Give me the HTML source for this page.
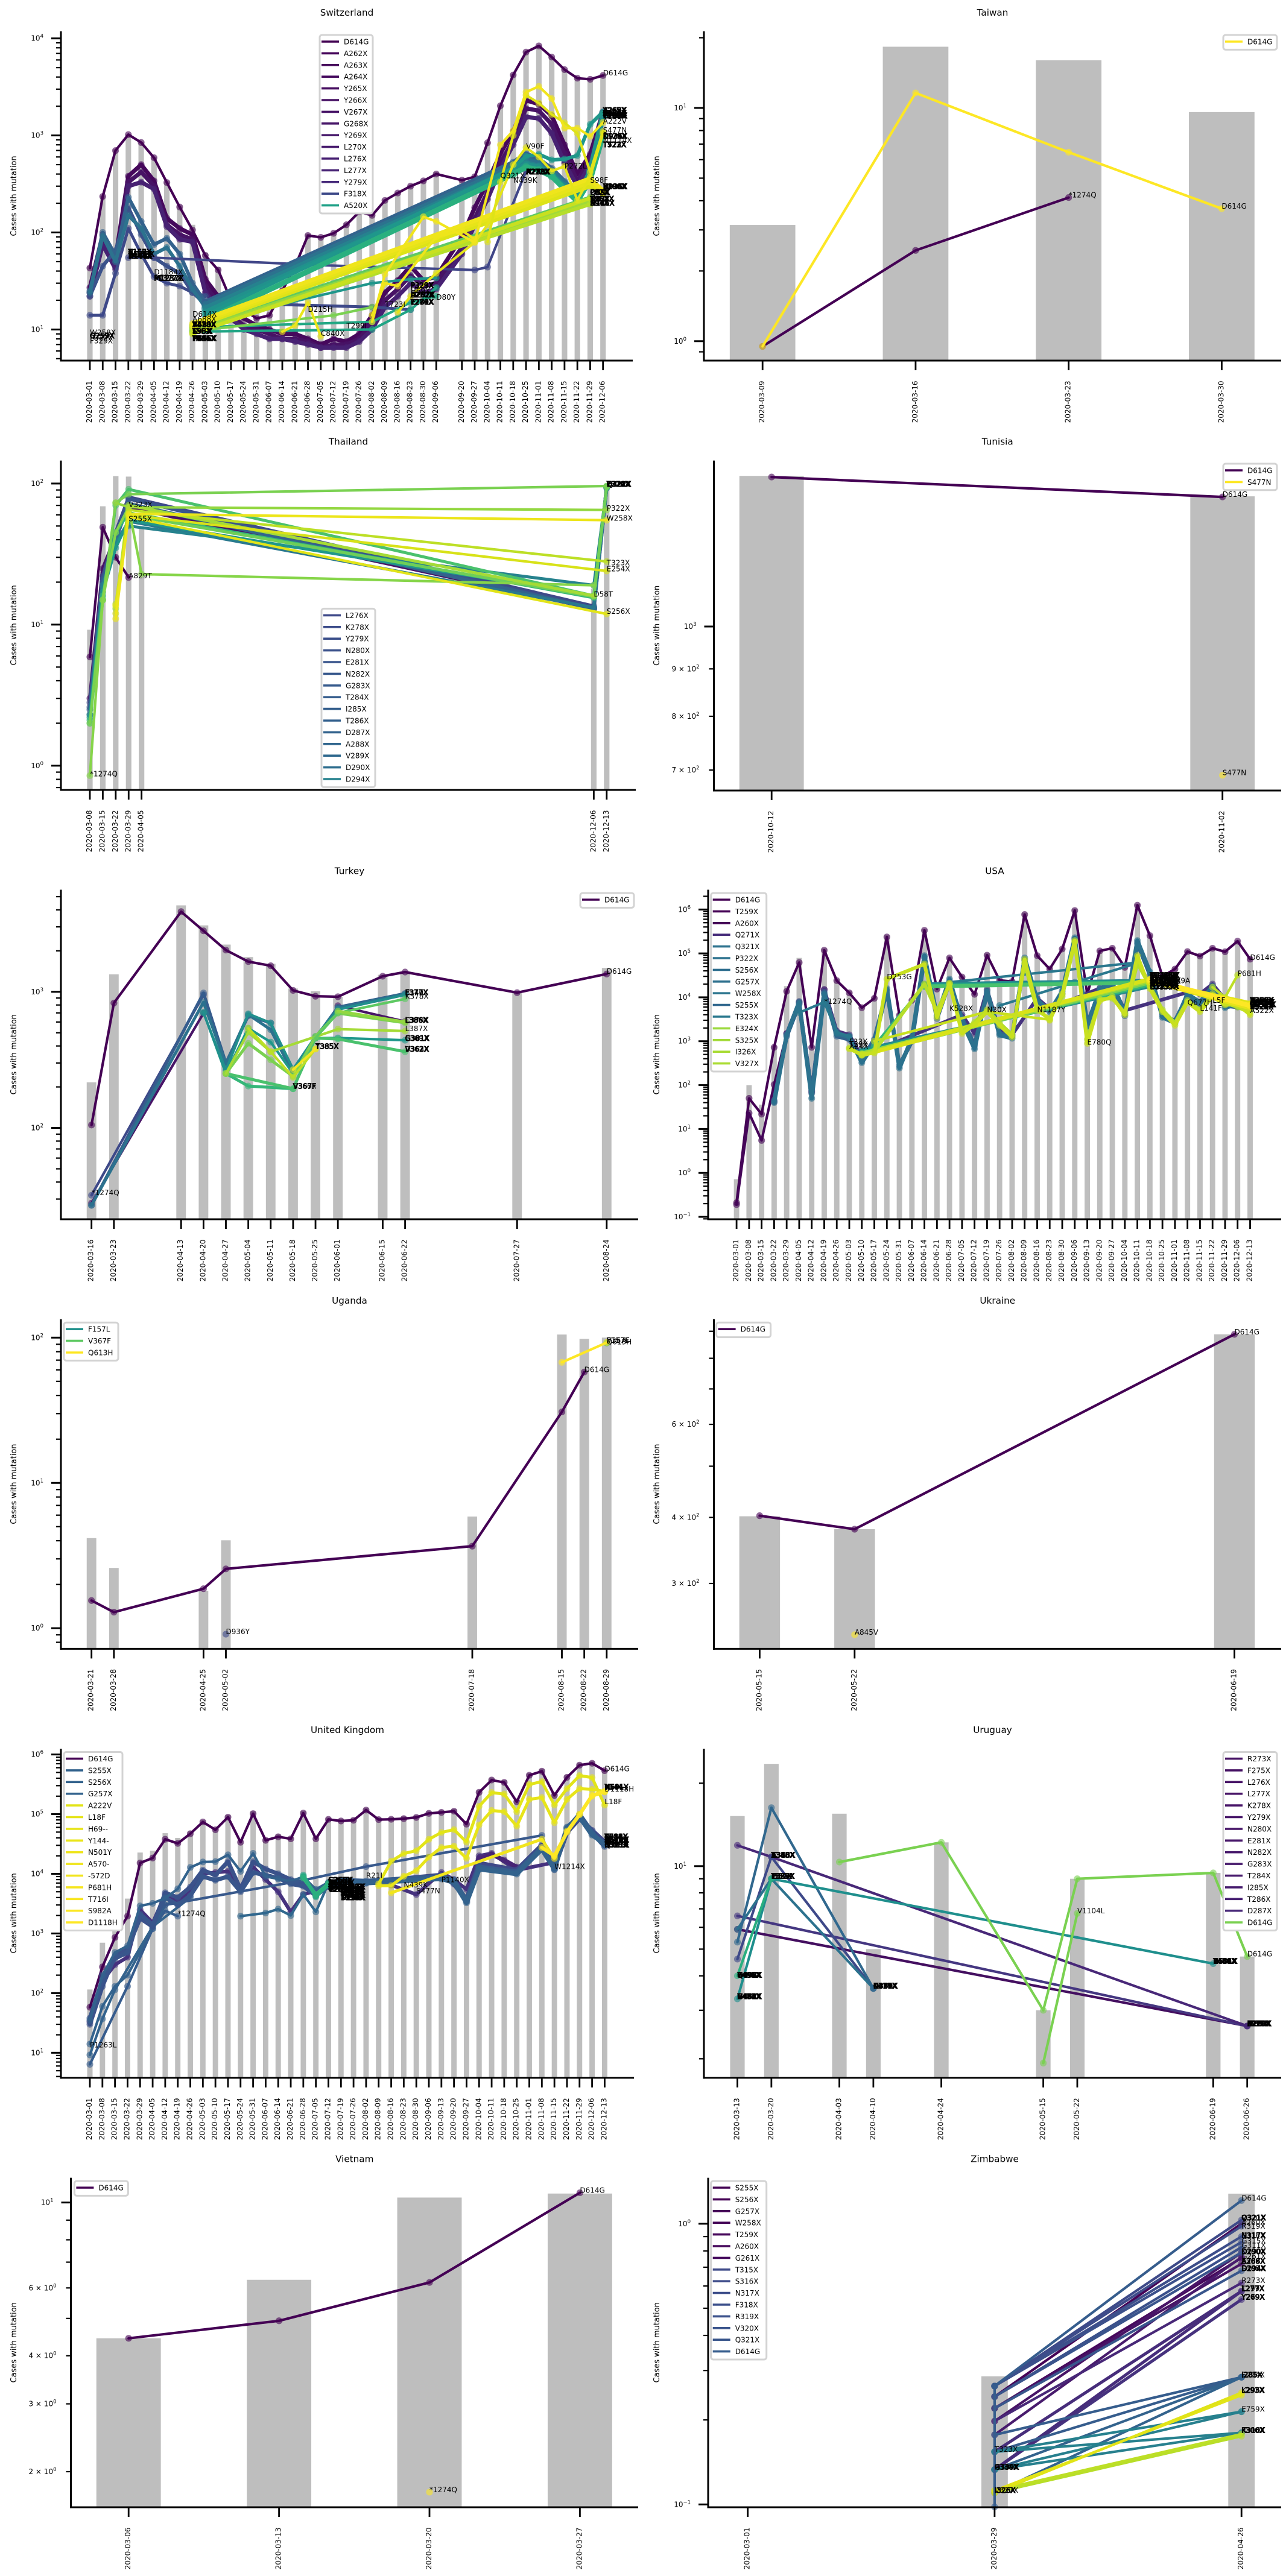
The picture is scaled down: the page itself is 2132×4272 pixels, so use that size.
<!DOCTYPE html>
<html lang="en">
<head>
<meta charset="utf-8">
<title>Cases with mutation by country</title>
<style>
html,body{margin:0;padding:0;background:#fff;}
svg{display:block;font-family:"DejaVu Sans","Liberation Sans",sans-serif;}
</style>
</head>
<body>
<svg id="figure" xmlns="http://www.w3.org/2000/svg" width="2132" height="4272" viewBox="0 0 2132 4272"></svg>
<script>
const _ = null;

/* ---------- Switzerland ---------- */
const swDates = ['03-01','03-08','03-15','03-22','03-29','04-05','04-12','04-19','04-26','05-03','05-10','05-17','05-24','05-31','06-07','06-14','06-21','06-28','07-05','07-12','07-19','07-26','08-02','08-09','08-16','08-23','08-30','09-06','09-20','09-27','10-04','10-11','10-18','10-25','11-01','11-08','11-15','11-22','11-29','12-06'];
const swTotals = [45,240,720,1030,860,600,335,190,120,62,44,23,18,15,16,30,48,97,92,100,125,170,155,220,260,310,350,420,355,380,860,2050,4300,7400,8500,6500,4800,3950,3850,4300];
const swD614G = [43,235,698,1020,845,589,327,183,106,58,41,20,16,13,14,25,45,93,89,98,120,163,150,214,255,300,340,400,346,375,840,2020,4200,7230,8370,6420,4770,3890,3790,4150];
const swPurpleA = [27,95,55,380,500,340,140,110,95,33,22,17,13,11,10,9,9,8,7,8,7.5,9,14,24,32,45,32,35,90,180,330,650,1100,2300,2100,1600,800,400,640,1750];
const swPurpleB = [24,85,48,330,420,300,120,95,85,28,19,14,11,10,9,8,8,7.5,6.5,7,7,8,12,20,26,36,28,30,70,140,260,520,900,1900,1800,1300,650,340,560,1650];
const swPurpleC = [22,75,42,300,330,280,115,85,80,24,17,13,10,9,8,8,7.5,7,6.5,6.5,6.5,7.5,10,17,22,30,24,26,60,120,220,450,800,1550,1500,1050,520,300,500,1550];
const swEarlyDates = ['03-01','03-08','03-15','03-22','03-29','04-05','04-12','04-19','04-26','05-03'];
const swEarlyA = [14,14,38,110,60,35,30,28,24,18];
const swEarlyB = [22,45,65,180,95,55,45,38,24,22];
const swEarlyC = [25,100,58,230,130,75,87,60,30,19];
const swEarlyD = [24,92,50,150,110,60,70,45,26,17];
const swFlatDates = ['03-22','04-05','07-05','09-27','10-04','10-25'];
const swFlat = [55,55,46,41,44,430];
const swMidDates = ['05-03','08-02','08-23'];
const swMid = [19,17,16];
const swTealDates = ['04-26','08-02','08-23','09-06'];
const swTealA = [11,30,33,34];
const swTealB = [9.5,10,16,27];
const swTealC = [10.5,12,19,22];
const swGreenDates = ['04-26','07-12','08-02'];
const swGreen = [9.6,14,17];
const swBandDates = ['05-03','10-18','10-25','11-01','11-08','11-15','11-22','11-29','12-06'];
const swBandA = [19,520,640,560,450,330,240,370,1700];
const swBandB = [18,480,560,520,430,320,230,400,1650];
const swBandC = [16.5,450,520,480,400,300,220,420,1600];
const swBandD = [15,430,500,470,390,290,215,430,1600];
const swBandE = [14,460,610,640,560,570,620,1300,1750];
const swBandF = [12.5,400,470,440,380,280,210,350,1000];
const swLimeDates = ['04-26','11-29'];
const swLimeA = [10.2,230];
const swLimeB = [9.8,215];
const swLimeC = [9.5,205];
const swLimeD = [9.2,195];
const swLimeE = [9,225];
const swYellowDates = ['04-26','11-29','12-06'];
const swYellowA = [10.5,300,250];
const swYellowB = [11,330,260];
const swYellowC = [11.5,360,270];
const swSpikeDates = ['06-14','06-21','06-28','07-05'];
const swSpike = [9.5,11,19,8.5];
const swLateADates = ['08-02','08-09','08-30','09-06','09-27','10-11','10-18','10-25','11-01','11-08','11-15','11-22','11-29','12-06'];
const swLateA = [12,37,145,130,79,800,1120,2800,3200,2400,1190,1190,980,1360];
const swLateBDates = ['08-16','08-23','09-06','09-27','10-04','10-18','10-25','11-01','11-08','11-15','11-22','11-29','12-06'];
const swLateB = [15,22,38,79,120,500,750,600,430,480,215,375,1050];
const swLateCDates = ['10-04','10-11','10-18','10-25','11-01','11-08','11-15','11-22','11-29','12-06'];
const swLateC = [80,330,1000,2600,2150,1650,1350,1050,420,1100];
const swLateDDates = ['08-02','08-09','08-16','09-06','09-20','09-27'];
const swLateD = [14,30,28,90,105,85];
const swLegendNames = ['D614G','A262X','A263X','A264X','Y265X','Y266X','V267X','G268X','Y269X','L270X','L276X','L277X','Y279X','F318X','A520X'];
const swLegendColors = ['#440154','#450559','#46085c','#460b5e','#470e61','#471164','#481467','#481769','#481a6c','#481c6e','#482173','#482475','#472a7a','#3e4a89','#1fa187'];
const swLabelDates = ['03-01','03-01','03-01','03-01','03-22','03-22','03-22','04-05','04-05','04-26','04-26','04-26','04-26','04-26','06-28','07-05','07-19','08-09','08-23','08-23','08-23','08-23','09-06','10-11','10-18','10-25','10-25','11-15','11-29','11-29','11-29','11-29','12-06','12-06','12-06','12-06','12-06','12-06','12-06','12-06','12-06','12-06'];
const swLabelValues = [8.8,8.1,7.7,7.2,59.5,56.5,53.6,36.8,31.8,13.6,12,10.6,9.06,7.6,15.2,8.6,10.3,17.1,26.9,23.6,21.4,18.1,20.3,363,325,731,398,455,325,245,209,189,4150,1715,1605,1504,1325,1067,923,840,759,281];
const swLabelTexts = ['W258X','Q259X G257X','P322X','F329X','P157X T158X','W152X R158X','Y144X N148X','D1184X','M1237X P1377X','D614X','A688X','T478X A520X V483X','L5F-X S98X T95X','T716X P681X H655X','D215H','C840X','T299I','T723I','F329X P323X','H69X','L270X D287X A262X','L276X E281X Y279X','D80Y','Q321X','N439K','V90F','P272X A273X N280X','P272L','S98F','Q89X P82X','R102X D83X T95X','H146X S94X K97X','D614G','A263X A262X Y265X','A264X Y266X V267X','G268X Y269X L270X','A222V','S477N','D936X K129X','N1114X','T572X T723X','D936X R190X Y200X'];

/* ---------- Taiwan ---------- */
const twDates = ['03-09','03-16','03-23','03-30'];
const twTotals = [3.15,18.3,16,9.6];
const tw1274Q = [0.95,2.45,4.13,_];
const twD614G = [0.95,11.6,6.46,3.7];
const twLabelDates = ['03-23','03-30'];
const twLabelValues = [4.13,3.7];
const twLabelTexts = ['*1274Q','D614G'];
const twLegendNames = ['D614G'];
const twLegendColors = ['#fde725'];

/* ---------- Thailand ---------- */
const thDates = ['03-08','03-15','03-22','03-29','04-05','12-06','12-13'];
const thTotals = [9.2,69,113,112,49,18,96];
const th01 = [5.9,49,30,21.6,_,_,_];
const th02 = [3,25,42,68,_,13,_];
const th03 = [2.8,22,45,80,_,13.5,95];
const th04 = [2.6,21,42,78,_,13,95];
const th05 = [2.5,20,40,72,_,13,94];
const th06 = [2.3,18,38,54,_,13.2,95];
const th07 = [2.3,19,38,50,_,19,93];
const th08 = [2.2,17,35,55,_,16,94];
const th09 = [2.1,16,45,62,_,15.5,95];
const th10 = [2,15,70,91,_,16,95];
const th11 = [_,_,_,60,_,15.8,95];
const th12 = [2,15,73,84,_,_,96];
const th13 = [0.85,14.9,45,68,22.8,19,_];
const th14 = [_,_,73,68,_,_,65];
const th15 = [_,_,13,70,_,16,_];
const th16 = [_,_,14,65,_,_,28];
const th17 = [_,_,12,60,_,_,24];
const th18 = [_,_,13.6,58,_,_,11.9];
const th19 = [_,_,11,61,_,_,55];
const thLegendNames = ['L276X','K278X','Y279X','N280X','E281X','N282X','G283X','T284X','I285X','T286X','D287X','A288X','V289X','D290X','D294X'];
const thLegendColors = ['#3e4989','#3d4d8a','#3c508b','#3b528b','#39558c','#38588c','#375b8d','#365d8d','#355f8d','#34618d','#33638d','#31668e','#30698e','#2e6e8e','#26828e'];
const thLabelDates = ['03-08','03-29','03-29','03-29','12-13','12-13','12-13','12-13','12-13','12-06','12-13'];
const thLabelValues = [0.84,21.3,54,68,95,64,54.6,26.3,23.8,15.8,11.9];
const thLabelTexts = ['*1274Q','A829T','S255X','V323X','Q322X Y279X E324X','P322X','W258X','T323X','E254X','D58T','S256X'];

/* ---------- Tunisia ---------- */
const tnDates = ['10-12','11-02'];
const tnTotals = [1454,1382];
const tnD614G = [1450,1380];
const tnS477N = [_,691];
const tnTickValues = [700,800,900];
const tnLabelDates = ['11-02','11-02'];
const tnLabelValues = [1380,691];
const tnLabelTexts = ['D614G','S477N'];
const tnLegendNames = ['D614G','S477N'];
const tnLegendColors = ['#440154','#fde725'];

/* ---------- Turkey ---------- */
const tkDates = ['03-16','03-23','04-13','04-20','04-27','05-04','05-11','05-18','05-25','06-01','06-15','06-22','07-27','08-24'];
const tkTotals = [216,1345,4316,3077,2223,1800,1607,1057,1010,920,1333,1397,1010,1497];
const tkD614G = [105,827,3882,2805,2026,1667,1554,1024,928,920,1302,1397,986,1352];
const tkDarkADates = ['03-16','04-20'];
const tkDarkA = [28,697];
const tkBlueCDates = ['03-16','04-20'];
const tkBlueC = [32,950];
const tkDarkBDates = ['06-01','06-22'];
const tkDarkB = [790,605];
const tkBlueDates = ['03-16','04-20','04-27','05-04','05-11','05-18','05-25','06-01','06-22'];
const tkBlueA = [27,980,300,665,591,251,457,771,972];
const tkBlueB = [27,838,295,680,527,251,457,760,965];
const tkTealDates = ['04-20','04-27','05-04','05-11','05-18','05-25','06-01','06-22'];
const tkTealA = [706,251,540,427,251,457,458,441];
const tkTealB = [700,265,690,590,270,470,740,950];
const tkGreenADates = ['04-27','05-04','05-18'];
const tkGreenA = [251,203,194];
const tkGreenBDates = ['04-27','05-18','05-25','06-01','06-22'];
const tkGreenB = [251,194,457,450,363];
const tkLimeADates = ['04-27','05-04','05-11','05-18','05-25','06-01','06-22'];
const tkLimeA = [251,418,316,239,470,697,592];
const tkLimeBDates = ['04-27','05-04','05-11','06-01','06-22'];
const tkLimeB = [251,504,363,532,515];
const tkYellowADates = ['05-04','05-11','05-18','05-25'];
const tkYellowA = [540,363,235,380];
const tkYellowBDates = ['05-18','05-25'];
const tkYellowB = [268,380];
const tkGreenCDates = ['05-25','06-01','06-22'];
const tkGreenC = [457,700,887];
const tkLimeCDates = ['06-01','06-22'];
const tkLimeC = [720,600];
const tkLabelDates = ['03-16','08-24','05-18','05-25','06-22','06-22','06-22','06-22','06-22','06-22'];
const tkLabelValues = [32,1352,194,380,950,887,592,515,437,363];
const tkLabelTexts = ['*1274Q','D614G','S366X','Y365X','E340X','K378X','C379X','L387X','E369X','D364X'];
const tkLabelRepeatDates = ['05-18','05-25','06-22','06-22','06-22','06-22'];
const tkLabelRepeatValues = [194,380,950,592,437,363];
const tkLabelRepeatTexts = ['V367F','T385X','F377X','L386X','G381X','V362X'];
const tkLegendNames = ['D614G'];
const tkLegendColors = ['#440154'];

/* ---------- USA ---------- */
const usDates = ['03-01','03-08','03-15','03-22','03-29','04-05','04-12','04-19','04-26','05-03','05-10','05-17','05-24','05-31','06-07','06-14','06-21','06-28','07-05','07-12','07-19','07-26','08-02','08-09','08-16','08-23','08-30','09-06','09-13','09-20','09-27','10-04','10-11','10-18','10-25','11-01','11-08','11-15','11-22','11-29','12-06','12-13'];
const usTotals = [0.72,100,36,790,18000,79000,800,130000,26000,14000,6200,10500,260000,4200,9000,360000,17000,85000,31000,12500,100000,26000,25000,850000,95000,48000,135000,1050000,13000,120000,140000,52000,1350000,270000,33000,48000,120000,93000,140000,115000,200000,80000];
const usD614G = [0.21,50,21.8,725,13700,62000,725,118000,24000,12600,5800,9500,237000,3900,8500,335000,15400,79000,29000,11700,91000,24400,22900,770000,89000,44000,126000,950000,11800,114000,131000,48000,1250000,254000,30000,44000,110000,87000,131000,109000,190000,74000];
const usEarlyDates = ['03-01','03-08','03-15','03-22','03-29','04-05','04-12','04-19','04-26','05-03'];
const usEarly = [0.19,23,5.5,103,1500,7500,70,15000,1600,1300];
const usBlueA = [_,_,_,40,1400,7800,50,11800,1480,1260,325,900,15800,245,1170,89000,3800,26000,2800,670,14000,1380,1170,79000,8900,4700,13800,228000,2100,15800,21000,4300,196000,38000,3500,2600,11900,7700,18000,5800,7000,5000];
const usBlueB = [_,_,_,45,1300,7000,65,13000,1300,1100,380,1100,14000,280,1000,80000,3300,22000,3300,800,12500,1500,1300,70000,7800,5200,12000,210000,2500,14000,18000,3800,170000,33000,3900,2900,10500,6800,16000,6500,6000,5500];
const usPurple = [_,_,_,42,1500,8000,75,15000,1700,1400,450,_,_,_,_,_,_,_,4000,1500,15000,1700,1400,_,9500,5500,_,_,_,16000,19000,5000,_,_,_,_,13000,12000,20000,9000,7500,5200];
const usLimeA = [_,_,_,_,_,_,_,_,_,670,500,540,26000,_,_,57000,3500,21000,1500,2400,4700,2300,1240,73000,5800,3000,11900,196000,890,8300,10300,4000,89000,15800,4700,2300,7700,4700,10300,6700,6900,4000];
const usLimeB = [_,_,_,_,_,_,_,_,_,700,480,600,_,_,_,20000,4800,20000,1700,2700,5200,2600,1400,60000,5000,3300,10500,180000,1100,9000,9500,4400,60000,18000,5200,2600,8500,5200,12000,7500,6000,4500];
const usFlatDates = ['06-14','10-18'];
const usFlatA = [20000,24000];
const usFlatB = [19000,23000];
const usFlatC = [18000,22000];
const usFlatD = [17500,21500];
const usRiseDates = ['05-10','10-18'];
const usRiseA = [620,18000];
const usRiseB = [580,19000];
const usRiseC = [540,20000];
const usRiseD = [500,22000];
const usRiseE = [520,24000];
const usRiseF = [480,26000];
const usSideDates = ['05-17','07-19','08-23'];
const usSide = [1000,4700,3100];
const usSpringDates = ['04-05','04-19','04-26','05-03'];
const usSpring = [4470,7800,1600,1300];
const usTealADates = ['06-28','10-11'];
const usTealA = [22000,62000];
const usTealBDates = ['07-26','09-06','10-11'];
const usTealB = [6500,22000,60000];
const usGreenDates = ['05-17','06-14'];
const usGreen = [800,19000];
const usEndDates = ['10-18','12-13'];
const usEndA = [23000,7200];
const usEndB = [24000,5800];
const usEndC = [25000,6500];
const usP681Dates = ['11-22','11-29','12-06'];
const usP681 = [17000,10000,32000];
const usLegendNames = ['D614G','T259X','A260X','Q271X','Q321X','P322X','S256X','G257X','W258X','S255X','T323X','E324X','S325X','I326X','V327X'];
const usLegendColors = ['#440154','#440154','#450457','#472d7b','#2c728e','#2c728e','#2e6e8e','#2d708e','#2b758e','#31688e','#2a788e','#9bd93c','#a2da37','#a8db34','#aadc32'];
const usLabelDates = ['04-19','05-03','05-03','05-03','05-24','06-28','07-19','08-16','09-13','10-18','10-18','10-18','10-18','10-18','10-18','10-25','11-08','11-22','11-15','12-06','12-13','12-13','12-13','12-13','12-13','12-13'];
const usLabelValues = [7080,860,750,668,25900,4900,4600,4600,840,28000,24400,21100,18300,15800,14900,21000,6700,7500,5000,30900,70800,7500,6700,6000,5350,4370];
const usLabelTexts = ['*1274Q','F33X','T29X','A24X','D253G','K528X','N30X','N1187Y','E780Q','M1229X T1238X K1245X','L1203X E1182X V1228X','S1252X A1260X W1214X','D1259X Y1265X K1269X','G1219X I1227X C1235X','E1132Q','T1289A','Q677H','L5F','L141F','P681H','D614G','T259X A260X V327X','Q321X P322X I326X','S256X G257X W258X','S325X E324X T323X','A522X'];

/* ---------- Uganda ---------- */
const ugDates = ['03-21','03-28','04-25','05-02','07-18','08-15','08-22','08-29'];
const ugTotals = [4.17,2.6,1.81,4.03,5.87,105,98,100];
const ugD614G = [1.55,1.29,1.87,2.56,3.67,30.8,58,_];
const ugD936Y = [_,_,_,0.91,_,_,_,_];
const ugF157L = [_,_,_,_,_,_,_,92];
const ugV367F = [_,_,_,_,_,_,_,92];
const ugQ613H = [_,_,_,_,_,67.6,_,92.5];
const ugLabelDates = ['05-02','08-22','08-29','08-29','08-29'];
const ugLabelValues = [0.91,58,92,92,90];
const ugLabelTexts = ['D936Y','D614G','F157L','V367F','Q613H'];
const ugLegendNames = ['F157L','V367F','Q613H'];
const ugLegendColors = ['#21918c','#5ec962','#fde725'];

/* ---------- Ukraine ---------- */
const uaDates = ['05-15','05-22','06-19'];
const uaTotals = [402,380,888];
const uaD614G = [403,380,888];
const uaA845V = [_,240,_];
const uaTickValues = [300,400,600];
const uaLabelDates = ['05-22','06-19'];
const uaLabelValues = [240,888];
const uaLabelTexts = ['A845V','D614G'];
const uaLegendNames = ['D614G'];
const uaLegendColors = ['#440154'];

/* ---------- United Kingdom ---------- */
const gbDates = ['03-01','03-08','03-15','03-22','03-29','04-05','04-12','04-19','04-26','05-03','05-10','05-17','05-24','05-31','06-07','06-14','06-21','06-28','07-05','07-12','07-19','07-26','08-02','08-09','08-16','08-23','08-30','09-06','09-13','09-20','09-27','10-04','10-11','10-18','10-25','11-01','11-08','11-15','11-22','11-29','12-06','12-13'];
const gbTotals = [115,700,2340,3840,22700,24400,48000,40000,52000,80000,60000,97000,38000,112000,40000,46000,42000,114000,44000,88000,84000,86000,128000,88000,90000,92000,96000,112000,116000,122000,76000,255000,410000,375000,178000,490000,570000,225000,450000,720000,780000,550000];
const gbD614G = [58,275,857,1950,15200,18400,38000,32300,47000,74000,54700,89000,33800,102000,36400,41700,38600,104000,38600,81800,76800,79000,117000,81000,82000,84000,88000,103000,107000,112000,68000,232000,373000,340000,161000,448000,524000,206000,414000,662000,712000,536000];
const gbSpringDates = ['03-01','03-08','03-15','03-22','03-29','04-05','04-12','04-19','04-26','05-03','05-10','05-17','05-24','05-31','06-07','06-14','06-21','06-28','07-05','07-12'];
const gbSpringA = [35,200,480,620,2900,3200,3900,5600,12800,15800,16000,20800,11000,22000,9000,8200,7500,8900,5500,7200];
const gbSpringB = [30,130,420,560,1800,1300,4800,4000,6000,11500,9500,16000,5500,16000,12000,10000,8000,7000,4800,6500];
const gbSpringC = [33,160,300,400,2500,1500,4500,3500,5000,10000,10500,11000,6000,13000,8000,5000,2300,4500,5200,6900];
const gbSpringD = [38,170,380,480,2100,1400,4000,3000,4300,9000,7800,9000,5000,10500,9500,8500,6800,6200,4300,6200];
const gbLowADates = ['03-01','03-08','03-15','03-22','04-05','04-12','04-19'];
const gbLowA = [14,60,130,200,1200,3000,3800];
const gbLowBDates = ['03-01','03-22','04-05','04-12','04-19'];
const gbLowB = [6.4,130,1200,2400,1950];
const gbLowCDates = ['03-01','03-08','03-15','04-05','04-26'];
const gbLowC = [9.2,37,114,1300,4000];
const gbLongDates = ['04-12','06-28','08-02','11-08','11-15'];
const gbLong = [3000,7800,13200,44000,11700];
const gbDipDates = ['05-24','06-07','06-14','06-21','06-28','07-05','07-12'];
const gbDip = [1950,2200,2560,2000,4500,2300,6900];
const gbLateDates = ['07-12','07-19','08-02','09-13','09-20','09-27','10-04','10-25','11-08','11-15','11-22','11-29','12-06','12-13'];
const gbLateA = [6900,7800,7500,9000,7900,3500,13000,10700,27600,12500,57000,98000,49000,29000];
const gbLateB = [6500,7500,7000,8300,7200,3300,12000,10000,26000,12000,60000,90000,45000,32000];
const gbLateC = [6200,7000,7200,9500,6800,3700,15000,11500,30000,13000,50000,85000,53000,34000];
const gbPurpleADates = ['08-16','08-30','09-13','09-20','09-27','10-04','10-11','10-25','11-15'];
const gbPurpleA = [6500,4500,10500,8000,5500,20000,22000,11500,15500];
const gbPurpleBDates = ['10-04','10-11','10-18','10-25'];
const gbPurpleB = [18000,21000,17000,13000];
const gbGreenDates = ['06-28','07-05','07-12'];
const gbGreenA = [9500,4100,7000];
const gbGreenB = [8500,4500,6800];
const gbGreenC = [9000,4300,6500];
const gbYellowDates = ['08-09','08-16','08-23','08-30','09-06','09-13','09-20','09-27','10-04','10-11','10-18','10-25','11-01','11-08','11-15','11-22','11-29','12-06','12-13'];
const gbYellowA = [6800,16300,21900,24400,37900,49300,55000,34000,135000,230000,217000,110000,315000,350000,142000,268000,443000,410000,142000];
const gbYellowB = [6300,6340,9100,11300,19000,27600,29000,18200,66000,115000,110000,63000,177000,190000,72000,177000,268000,260000,240000];
const gbBrightADates = ['11-08','11-15','11-22','11-29','12-06','12-13'];
const gbBrightA = [27600,20000,50000,98000,206000,240000];
const gbBrightBDates = ['08-16','11-08','11-15','11-22','11-29','12-06','12-13'];
const gbBrightB = [4800,38000,18100,52000,100000,200000,235000];
const gbLegendNames = ['D614G','S255X','S256X','G257X','A222V','L18F','H69--','Y144-','N501Y','A570-','-572D','P681H','T716I','S982A','D1118H'];
const gbLegendColors = ['#440154','#33638d','#33638d','#33638d','#e2e418','#e5e419','#e7e419','#eae51a','#efe51c','#efe51c','#f1e51d','#f6e620','#f8e621','#fbe723','#fde725'];
const gbLabelDates = ['03-01','04-19','07-12','07-12','07-12','07-12','07-12','07-19','07-19','07-19','07-19','07-19','07-19','08-02','08-23','08-30','09-13','11-15','12-13','12-13','12-13','12-13','12-13','12-13','12-13','12-13'];
const gbLabelValues = [12.3,1950,7100,6500,6000,5500,5000,5500,5000,4470,4470,4000,3630,8500,5900,4680,7250,12000,525000,147000,261000,240000,38000,34000,30800,27700];
const gbLabelTexts = ['P1263L','*1274Q','S255X S256X G257X','W258X T259X A260X','G261X A262X A263X','A264X Y265X Y266X','V267X G268X Y269X','L270X D215X A243X','L241X L242X R246X','S247X Y248X L249X','A222V','T250X P251X G252X','D253X S254X T315X','R21I','N439K','S477N','P1140X','W1214X','D614G','L18F','H69-- Y144- N501Y','D1118H','S982X T716X P681X','A570X D572X T572X','E583X V615X K529X','Q321X F318X N317X'];

/* ---------- Uruguay ---------- */
const uyDates = ['03-13','03-20','04-03','04-10','04-24','05-15','05-22','06-19','06-26'];
const uyTotals = [15.2,23.5,15.5,5,12.2,3,9,9.45,4.7];
const uy01 = [11.9,10.8,_,_,_,_,_,_,2.63];
const uy02 = [5.9,_,_,_,_,_,_,_,2.63];
const uy03 = [6.6,_,_,_,_,_,_,_,2.63];
const uy04 = [4.6,10.8,_,3.6,_,_,_,_,_];
const uy05 = [5.3,16.3,_,3.6,_,_,_,_,_];
const uy06 = [5.9,9,_,3.6,_,_,_,_,_];
const uy07 = [3.3,9,_,_,_,_,_,4.43,_];
const uy08 = [4,9,_,_,_,_,_,_,_];
const uyD614G = [_,_,10.35,_,12.2,3,9,9.45,4.7];
const uyV1104L = [_,_,_,_,_,1.93,6.74,_,_];
const uyLegendNames = ['R273X','F275X','L276X','L277X','K278X','Y279X','N280X','E281X','N282X','G283X','T284X','I285X','T286X','D287X','D614G'];
const uyLegendColors = ['#471365','#471365','#481467','#481467','#481668','#481769','#481769','#48186a','#481a6c','#481b6d','#481b6d','#481d6f','#482173','#482878','#7ad151'];
const uyLabelDates = ['03-13','03-13','03-20','03-20','04-10','05-22','06-19','06-26','06-26'];
const uyLabelValues = [3.94,3.3,10.75,9,3.6,6.74,4.43,4.7,2.63];
const uyLabelTexts = ['Q493X G496X','G482X V483X','A348X T345X','T333X F329X','D389X K417X','V1104L','E484X N501X','D614G','R273X F275X L276X'];
const uyLabelRepeatDates = ['03-13','03-13','03-20','03-20','04-10','06-19','06-26'];
const uyLabelRepeatValues = [3.94,3.3,10.75,9,3.6,4.43,2.63];
const uyLabelRepeatTexts = ['S494X Y495X','S477X E484X','E340X K356X','I332X P337X','N394X C379X','F486X Y489X','K278X N280X I285X'];

/* ---------- Vietnam ---------- */
const vnDates = ['03-06','03-13','03-20','03-27'];
const vnTotals = [4.44,6.3,10.3,10.55];
const vnD614G = [4.44,4.93,6.2,10.6];
const vn1274Q = [_,_,1.77,_];
const vnTickValues = [2,3,4,6];
const vnLabelDates = ['03-20','03-27'];
const vnLabelValues = [1.77,10.6];
const vnLabelTexts = ['*1274Q','D614G'];
const vnLegendNames = ['D614G'];
const vnLegendColors = ['#440154'];

/* ---------- Zimbabwe ---------- */
const zwDates = ['03-01','03-29','04-26'];
const zwTotals = [_,0.286,1.28];
const zwPairDates = ['03-29','04-26'];
const zwStemDates = ['03-29','03-29'];
const zwStem = [0.098,0.264];
const zwD614G = [0.264,1.21];
const zwBlueA = [0.264,1.03];
const zwBlueB = [0.264,0.98];
const zwBlueC = [0.264,0.90];
const zwBlueD = [0.264,0.86];
const zwBlueE = [0.242,0.825];
const zwBlueF = [0.242,0.79];
const zwBlueG = [0.22,0.68];
const zwDarkA = [0.242,1.0];
const zwDarkB = [0.22,0.755];
const zwDarkC = [0.22,0.72];
const zwDarkD = [0.198,0.79];
const zwDarkE = [0.177,0.76];
const zwVioletA = [0.198,0.615];
const zwVioletB = [0.154,0.575];
const zwVioletC = [0.133,0.537];
const zwVioletD = [0.133,0.575];
const zwSteelA = [0.177,0.284];
const zwSteelB = [0.154,0.284];
const zwSteelC = [0.133,0.284];
const zwSteelD = [0.11,0.284];
const zwTealA = [0.154,0.214];
const zwTealB = [0.154,0.18];
const zwTealC = [0.133,0.18];
const zwTealD = [0.133,0.214];
const zwYellowA = [0.11,0.25];
const zwYellowB = [0.112,0.245];
const zwLimeA = [0.11,0.175];
const zwLimeB = [0.112,0.178];
const zwLegendNames = ['S255X','S256X','G257X','W258X','T259X','A260X','G261X','T315X','S316X','N317X','F318X','R319X','V320X','Q321X','D614G'];
const zwLegendColors = ['#440154','#440154','#450457','#450457','#46075a','#46085c','#460a5d','#3e4a89','#3e4c8a','#3d4e8a','#3c508b','#3b518b','#3a548c','#39568c','#365d8d'];
const zwLabelDates = ['03-29','03-29','03-29','03-29','04-26','04-26','04-26','04-26','04-26','04-26','04-26','04-26','04-26','04-26','04-26','04-26','04-26','04-26','04-26','04-26','04-26'];
const zwLabelValues = [0.154,0.133,0.133,0.11,1.21,1.03,0.99,0.96,0.89,0.85,0.82,0.78,0.75,0.72,0.68,0.615,0.575,0.537,0.284,0.25,0.214];
const zwLabelTexts = ['T323X','P330X','A344X','V327X','D614G','V320X','A260X','R319X','S316X','G315X','G311X','K300X','G261X','E309X','S305X','R273X','T299X','Y279X','E294X','K296X','E759X'];
const zwLabelRepeatDates = ['03-29','03-29','04-26','04-26','04-26','04-26','04-26','04-26','04-26','04-26','04-26','04-26','04-26'];
const zwLabelRepeatValues = [0.133,0.11,1.03,0.89,0.78,0.72,0.68,0.575,0.537,0.284,0.25,0.18,0.18];
const zwLabelRepeatTexts = ['G339X','I326X','Q321X','N317X','D290X','A288X','D294X','L277X','Y269X','I285X','L293X','K310X','F306X'];

/* ---------- rendering ---------- */
const SVG_NS = 'http://www.w3.org/2000/svg';
const root = document.getElementById('figure');
function node(tag, attrs, parent) {
  const el = document.createElementNS(SVG_NS, tag);
  for (const k in attrs) el.setAttribute(k, attrs[k]);
  parent.appendChild(el);
  return el;
}
function dayOf(md) { return Date.UTC(2020, +md.slice(0,2) - 1, +md.slice(3)) / 864e5; }

function makeAxes(cfg) {
  const kx = (cfg.xRef[3] - cfg.xRef[1]) / (dayOf(cfg.xRef[2]) - dayOf(cfg.xRef[0]));
  const ky = (cfg.yRef[3] - cfg.yRef[1]) / (Math.log10(cfg.yRef[2]) - Math.log10(cfg.yRef[0]));
  const ax = {
    cfg: cfg,
    xDay: function (d) { return cfg.xRef[1] + (d - dayOf(cfg.xRef[0])) * kx; },
    x: function (md) { return ax.xDay(dayOf(md)); },
    y: function (v) { return cfg.yRef[1] + (Math.log10(v) - Math.log10(cfg.yRef[0])) * ky; }
  };
  const g = node('g', {}, root);
  
  
  ax.bars = node('g', {}, g);
  
  
  ax.marks = node('g', {}, g);
  
  
  ax.labels = node('g', {}, g);
  
  
  ax.frame = node('g', {}, g);
  
  
  ax.legendLayer = node('g', {}, g);
  
  

  cfg.totals.forEach(function (v, i) {
    if (v === null) return;
    const d = dayOf(cfg.dates[i]);
    const left = ax.xDay(d - 1.5), right = ax.xDay(d + 1.5), top = ax.y(v);
    const bar = node('rect', {x: left, y: top, width: right - left, height: Math.max(0, cfg.bottom - top), fill: '#bebebe'}, ax.bars);
    
    
  });

  const title = node('text', {x: (cfg.left + cfg.right) / 2, y: cfg.top - 26, 'font-size': 15.2, 'text-anchor': 'middle', fill: '#000'}, ax.frame);
  title.textContent = cfg.title;
  
  

  const yTitleX = (cfg.left > 1000 ? 1066 : 0) + 27;
  const yTitleY = (cfg.top + cfg.bottom) / 2;
  const yTitle = node('text', {transform: 'translate(' + yTitleX + ',' + yTitleY + ') rotate(-90)', 'font-size': 13, 'text-anchor': 'middle', fill: '#000'}, ax.frame);
  yTitle.textContent = 'Cases with mutation';
  
  

  cfg.dates.forEach(function (md) {
    const px = ax.x(md);
    const tick = node('line', {x1: px, x2: px, y1: cfg.bottom, y2: cfg.bottom + 16, stroke: '#000', 'stroke-width': 2.8}, ax.frame);
    
    
    const lab = node('text', {transform: 'translate(' + (px + 3) + ',' + (cfg.bottom + 33.5) + ') rotate(-90)', 'font-size': 12, 'text-anchor': 'end', fill: '#000'}, ax.frame);
    lab.textContent = '2020-' + md;
    
    
  });

  const labeled = cfg.labeledTicks || [];
  for (let e = -2; e <= 7; e++) {
    for (let m = 1; m <= 9; m++) {
      const v = m * Math.pow(10, e);
      const py = ax.y(v);
      if (py < cfg.top || py > cfg.bottom) continue;
      const major = m === 1;
      const tick = node('line', {x1: cfg.left, x2: cfg.left - (major ? 16 : 8), y1: py, y2: py, stroke: '#000', 'stroke-width': major ? 3 : 2.2}, ax.frame);
      
      
      const hasLabel = major || labeled.some(function (t) { return Math.abs(t - v) < 1e-6; });
      if (!hasLabel) continue;
      const tx = cfg.left - (major ? 29 : 24);
      const lab = node('text', {x: tx, y: py + 4, 'font-size': 12, 'text-anchor': 'end', fill: '#000'}, ax.frame);
      
      
      const base = node('tspan', {}, lab);
      base.textContent = major ? '10' : m + ' \u00d7 10';
      const sup = node('tspan', {dy: -5, 'font-size': 8.5}, lab);
      sup.textContent = String(e).replace('-', '\u2212');
    }
  }

  const spineLeft = node('line', {x1: cfg.left, x2: cfg.left, y1: cfg.top, y2: cfg.bottom + 1.5, stroke: '#000', 'stroke-width': 3}, ax.frame);
  
  
  const spineBottom = node('line', {x1: cfg.left - 1.5, x2: cfg.right, y1: cfg.bottom, y2: cfg.bottom, stroke: '#000', 'stroke-width': 3}, ax.frame);
  
  
  return ax;
}

function series(ax, dates, values, color, name, thickness) {
  const w = thickness || 4.2;
  const pts = [];
  values.forEach(function (v, i) {
    if (v === null) return;
    pts.push([ax.x(dates[i]), ax.y(v)]);
  });
  if (pts.length > 1) {
    const line = node('polyline', {points: pts.map(function (p) { return p[0].toFixed(1) + ',' + p[1].toFixed(1); }).join(' '), fill: 'none', stroke: color, 'stroke-width': w, 'stroke-linejoin': 'round', 'stroke-linecap': 'round'}, ax.marks);
    
    
  }
  pts.forEach(function (p) {
    const dot = node('circle', {cx: p[0], cy: p[1], r: Math.max(5.6, w * 0.75), fill: color, 'fill-opacity': 0.6}, ax.marks);
    
    
  });
}

function annotate(ax, dates, values, texts, heavy) {
  texts.forEach(function (t, i) {
    const words = t.split(' ');
    words.forEach(function (word) {
      const lab = node('text', {x: ax.x(dates[i]), y: ax.y(values[i]), 'font-size': 12, fill: '#000'}, ax.labels);
      if (heavy || words.length > 1) {
        lab.setAttribute('stroke', '#000');
        lab.setAttribute('stroke-width', '1');
      }
      lab.textContent = word;
      
      
    });
  });
}

function legend(ax, names, colors, x, y, w) {
  const rowH = 19.4;
  const frame = node('rect', {x: x, y: y, width: w, height: names.length * rowH + 5, rx: 4, ry: 4, fill: '#fff', stroke: '#d3d3d3', 'stroke-width': 3}, ax.legendLayer);
  
  
  names.forEach(function (n, i) {
    const cy = y + 11 + i * rowH;
    const h = node('line', {x1: x + 3, x2: x + 32, y1: cy, y2: cy, stroke: colors[i], 'stroke-width': 3.6}, ax.legendLayer);
    
    
    const t = node('text', {x: x + 40, y: cy + 4.5, 'font-size': 12, fill: '#000'}, ax.legendLayer);
    t.textContent = n;
    
    
  });
}

/* Switzerland */
(function () {
  const ax = makeAxes({title: 'Switzerland', dates: swDates, totals: swTotals, left: 101, right: 1049, top: 52, bottom: 598, xRef: ['03-01', 149, '12-06', 999.7], yRef: [10000, 63.7, 10, 546.4]});
  series(ax, swDates, swD614G, '#440154', 'D614G');
  series(ax, swDates, swPurpleA, '#46085c', 'A262X', 7);
  series(ax, swDates, swPurpleB, '#471365', 'A263X', 7);
  series(ax, swDates, swPurpleC, '#482173', 'L276X', 7);
  series(ax, swEarlyDates, swEarlyA, '#3e4989', 'F318X', 5);
  series(ax, swEarlyDates, swEarlyB, '#3b528b', 'early-b', 6);
  series(ax, swEarlyDates, swEarlyC, '#33638d', 'early-c', 6);
  series(ax, swEarlyDates, swEarlyD, '#2c728e', 'early-d', 6);
  series(ax, swFlatDates, swFlat, '#404688', 'flat');
  series(ax, swMidDates, swMid, '#3e4989', 'mid', 5);
  series(ax, swTealDates, swTealA, '#1f968b', 'teal-a');
  series(ax, swTealDates, swTealB, '#21a585', 'teal-b');
  series(ax, swTealDates, swTealC, '#22a884', 'teal-c');
  series(ax, swGreenDates, swGreen, '#7ad151', 'green');
  series(ax, swBandDates, swBandA, '#33638d', 'band-a', 9);
  series(ax, swBandDates, swBandB, '#2c728e', 'band-b', 9);
  series(ax, swBandDates, swBandC, '#26828e', 'band-c', 9);
  series(ax, swBandDates, swBandD, '#21918c', 'band-d', 9);
  series(ax, swBandDates, swBandE, '#1f978b', 'A520X', 6);
  series(ax, swBandDates, swBandF, '#2ab07f', 'band-f', 9);
  series(ax, swLimeDates, swLimeA, '#5ec962', 'lime-a', 6);
  series(ax, swLimeDates, swLimeB, '#90d743', 'lime-b', 6);
  series(ax, swLimeDates, swLimeC, '#a0da39', 'lime-c', 6);
  series(ax, swLimeDates, swLimeD, '#b5de2b', 'lime-d', 6);
  series(ax, swLimeDates, swLimeE, '#c8e020', 'lime-e', 6);
  series(ax, swYellowDates, swYellowA, '#dde318', 'yellow-a', 7);
  series(ax, swYellowDates, swYellowB, '#e7e419', 'yellow-b', 7);
  series(ax, swYellowDates, swYellowC, '#efe51c', 'yellow-c', 7);
  series(ax, swSpikeDates, swSpike, '#eae51a', 'C840X');
  series(ax, swLateDDates, swLateD, '#eee51b', 'late-d');
  series(ax, swLateBDates, swLateB, '#e5e419', 'late-b');
  series(ax, swLateCDates, swLateC, '#dfe318', 'late-c');
  series(ax, swLateADates, swLateA, '#f1e51d', 'late-a');
  annotate(ax, swLabelDates, swLabelValues, swLabelTexts);
  legend(ax, swLegendNames, swLegendColors, 530, 58, 88);
})();

/* Taiwan */
(function () {
  const ax = makeAxes({title: 'Taiwan', dates: twDates, totals: twTotals, left: 1167, right: 2124, top: 52, bottom: 598, xRef: ['03-09', 1264.2, '03-30', 2025.4], yRef: [10, 179, 1, 565.8]});
  series(ax, twDates, tw1274Q, '#440154', '1274Q');
  series(ax, twDates, twD614G, '#fde725', 'D614G');
  annotate(ax, twLabelDates, twLabelValues, twLabelTexts);
  legend(ax, twLegendNames, twLegendColors, 2028, 58, 89);
})();

/* Thailand */
(function () {
  const ax = makeAxes({title: 'Thailand', dates: thDates, totals: thTotals, left: 101, right: 1054, top: 763.7, bottom: 1310, xRef: ['03-08', 149, '12-13', 1005.8], yRef: [100, 801.9, 1, 1269.8]});
  series(ax, thDates, th01, '#440154', 'A829T');
  series(ax, thDates, th02, '#471365', 'L276X', 6);
  series(ax, thDates, th03, '#3e4989', 'K278X', 6);
  series(ax, thDates, th04, '#39558c', 'N280X', 6);
  series(ax, thDates, th05, '#33638d', 'D287X', 6);
  series(ax, thDates, th06, '#2a788e', 'D290X', 5);
  series(ax, thDates, th07, '#26828e', 'D294X', 5);
  series(ax, thDates, th08, '#1f978b', 'teal', 5);
  series(ax, thDates, th09, '#35b779', 'green-a', 5);
  series(ax, thDates, th10, '#4ac16d', 'green-b', 5);
  series(ax, thDates, th11, '#6ece58', 'green-c', 5);
  series(ax, thDates, th12, '#7ad151', 'green-d');
  series(ax, thDates, th13, '#86d549', '1274Q');
  series(ax, thDates, th14, '#93d741', 'P322X');
  series(ax, thDates, th15, '#a5db36', 'lime', 5);
  series(ax, thDates, th16, '#bddf26', 'T323X');
  series(ax, thDates, th17, '#d8e219', 'E324X');
  series(ax, thDates, th18, '#e2e418', 'S256X');
  series(ax, thDates, th19, '#ece51b', 'W258X');
  annotate(ax, thLabelDates, thLabelValues, thLabelTexts);
  legend(ax, thLegendNames, thLegendColors, 533, 1009.4, 89);
})();

/* Tunisia */
(function () {
  const ax = makeAxes({title: 'Tunisia', dates: tnDates, totals: tnTotals, left: 1183.5, right: 2124, top: 763.7, bottom: 1311, xRef: ['10-12', 1279.2, '11-02', 2026.7], yRef: [1000, 1039, 700, 1277], labeledTicks: tnTickValues});
  series(ax, tnDates, tnD614G, '#440154', 'D614G');
  series(ax, tnDates, tnS477N, '#fde725', 'S477N');
  annotate(ax, tnLabelDates, tnLabelValues, tnLabelTexts);
  legend(ax, tnLegendNames, tnLegendColors, 2028, 769, 89);
})();

/* Turkey */
(function () {
  const ax = makeAxes({title: 'Turkey', dates: tkDates, totals: tkTotals, left: 101, right: 1058, top: 1475.5, bottom: 2022, xRef: ['03-16', 151.7, '08-24', 1005.8], yRef: [1000, 1644.8, 100, 1870.5]});
  series(ax, tkDates, tkD614G, '#440154', 'D614G');
  series(ax, tkDarkADates, tkDarkA, '#481567', 'dark-a');
  series(ax, tkBlueCDates, tkBlueC, '#3e4989', 'blue-c');
  series(ax, tkDarkBDates, tkDarkB, '#481567', 'dark-b');
  series(ax, tkBlueDates, tkBlueA, '#365c8d', 'blue-a', 5);
  series(ax, tkBlueDates, tkBlueB, '#2c728e', 'blue-b', 5);
  series(ax, tkTealDates, tkTealA, '#1f978b', 'teal-a');
  series(ax, tkTealDates, tkTealB, '#218f8d', 'teal-b');
  series(ax, tkGreenADates, tkGreenA, '#35b779', 'green-a', 5);
  series(ax, tkGreenBDates, tkGreenB, '#4ac16d', 'green-b', 5);
  series(ax, tkLimeADates, tkLimeA, '#7ad151', 'lime-a', 5);
  series(ax, tkLimeBDates, tkLimeB, '#a5db36', 'lime-b');
  series(ax, tkYellowADates, tkYellowA, '#bddf26', 'yellow-a');
  series(ax, tkYellowBDates, tkYellowB, '#f3e51e', 'yellow-b');
  series(ax, tkGreenCDates, tkGreenC, '#5ec962', 'green-c');
  series(ax, tkLimeCDates, tkLimeC, '#93d741', 'lime-c', 5);
  annotate(ax, tkLabelDates, tkLabelValues, tkLabelTexts);
  annotate(ax, tkLabelRepeatDates, tkLabelRepeatValues, tkLabelRepeatTexts, true);
  legend(ax, tkLegendNames, tkLegendColors, 962, 1481, 89);
})();

/* USA */
(function () {
  const ax = makeAxes({title: 'USA', dates: usDates, totals: usTotals, left: 1174, right: 2124, top: 1475.5, bottom: 2022, xRef: ['03-01', 1221.1, '12-13', 2072.5], yRef: [1000000, 1508.3, 0.1, 2018]});
  series(ax, usDates, usD614G, '#440154', 'D614G');
  series(ax, usEarlyDates, usEarly, '#450559', 'T259X');
  series(ax, usDates, usPurple, '#46327e', 'Q271X', 6);
  series(ax, usDates, usBlueB, '#33638d', 'S256X', 7);
  series(ax, usDates, usBlueA, '#2c728e', 'Q321X', 7);
  series(ax, usSpringDates, usSpring, '#2a788e', 'spring');
  series(ax, usTealADates, usTealA, '#2a788e', 'teal-a');
  series(ax, usTealBDates, usTealB, '#2a788e', 'teal-b');
  series(ax, usFlatDates, usFlatA, '#26828e', 'flat-a', 6);
  series(ax, usFlatDates, usFlatB, '#1f968b', 'flat-b', 6);
  series(ax, usFlatDates, usFlatC, '#35b779', 'flat-c', 6);
  series(ax, usFlatDates, usFlatD, '#4ac16d', 'flat-d', 6);
  series(ax, usRiseDates, usRiseA, '#26828e', 'rise-a', 7);
  series(ax, usRiseDates, usRiseB, '#1f968b', 'rise-b', 7);
  series(ax, usRiseDates, usRiseC, '#35b779', 'rise-c', 7);
  series(ax, usRiseDates, usRiseD, '#7ad151', 'rise-d', 7);
  series(ax, usRiseDates, usRiseE, '#a5db36', 'rise-e', 7);
  series(ax, usRiseDates, usRiseF, '#d8e219', 'rise-f', 7);
  series(ax, usGreenDates, usGreen, '#35b779', 'green');
  series(ax, usSideDates, usSide, '#c8e020', 'side');
  series(ax, usDates, usLimeB, '#b5de2b', 'lime-b', 6);
  series(ax, usDates, usLimeA, '#c8e020', 'lime-a', 6);
  series(ax, usP681Dates, usP681, '#bddf26', 'P681H');
  series(ax, usEndDates, usEndA, '#dfe318', 'end-a', 8);
  series(ax, usEndDates, usEndB, '#e7e419', 'end-b', 8);
  series(ax, usEndDates, usEndC, '#fde725', 'end-c', 8);
  annotate(ax, usLabelDates, usLabelValues, usLabelTexts);
  legend(ax, usLegendNames, usLegendColors, 1178.7, 1481, 92);
})();

/* Uganda */
(function () {
  const ax = makeAxes({title: 'Uganda', dates: ugDates, totals: ugTotals, left: 101, right: 1058, top: 2187.8, bottom: 2734.4, xRef: ['03-21', 151.7, '08-29', 1005.8], yRef: [100, 2218.3, 1, 2700.2]});
  series(ax, ugDates, ugD614G, '#440154', 'D614G');
  series(ax, ugDates, ugD936Y, '#3e4989', 'D936Y');
  series(ax, ugDates, ugF157L, '#21918c', 'F157L');
  series(ax, ugDates, ugV367F, '#5ec962', 'V367F');
  series(ax, ugDates, ugQ613H, '#fde725', 'Q613H');
  annotate(ax, ugLabelDates, ugLabelValues, ugLabelTexts);
  legend(ax, ugLegendNames, ugLegendColors, 106, 2193.2, 90);
})();

/* Ukraine */
(function () {
  const ax = makeAxes({title: 'Ukraine', dates: uaDates, totals: uaTotals, left: 1183.5, right: 2124, top: 2187.8, bottom: 2734.4, xRef: ['05-15', 1259.4, '06-19', 2046.5], yRef: [600, 2362.1, 300, 2626], labeledTicks: uaTickValues});
  series(ax, uaDates, uaD614G, '#440154', 'D614G');
  series(ax, uaDates, uaA845V, '#fde725', 'A845V');
  annotate(ax, uaLabelDates, uaLabelValues, uaLabelTexts);
  legend(ax, uaLegendNames, uaLegendColors, 1187.6, 2193.2, 90);
})();

/* United Kingdom */
(function () {
  const ax = makeAxes({title: 'United Kingdom', dates: gbDates, totals: gbTotals, left: 101, right: 1051, top: 2900, bottom: 3445.7, xRef: ['03-01', 149, '12-13', 1002.4], yRef: [1000000, 2909.6, 10, 3404.3]});
  series(ax, gbDates, gbD614G, '#440154', 'D614G');
  series(ax, gbLowADates, gbLowA, '#33638d', 'low-a');
  series(ax, gbLowBDates, gbLowB, '#365c8d', 'low-b');
  series(ax, gbLowCDates, gbLowC, '#33638d', 'low-c');
  series(ax, gbSpringDates, gbSpringC, '#46327e', 'spring-c', 6);
  series(ax, gbSpringDates, gbSpringB, '#3b528b', 'spring-b', 7);
  series(ax, gbSpringDates, gbSpringD, '#39568c', 'spring-d', 7);
  series(ax, gbSpringDates, gbSpringA, '#33638d', 'S255X');
  series(ax, gbLongDates, gbLong, '#38598c', 'long');
  series(ax, gbDipDates, gbDip, '#31688e', 'dip');
  series(ax, gbPurpleADates, gbPurpleA, '#46327e', 'purple-a', 6);
  series(ax, gbPurpleBDates, gbPurpleB, '#482475', 'purple-b', 7);
  series(ax, gbLateDates, gbLateC, '#3e4989', 'late-c', 8);
  series(ax, gbLateDates, gbLateA, '#365c8d', 'late-a', 8);
  series(ax, gbLateDates, gbLateB, '#33638d', 'late-b', 8);
  series(ax, gbGreenDates, gbGreenA, '#1fa187', 'green-a', 6);
  series(ax, gbGreenDates, gbGreenB, '#35b779', 'green-b', 6);
  series(ax, gbGreenDates, gbGreenC, '#29af7f', 'green-c', 6);
  series(ax, gbYellowDates, gbYellowA, '#e2e418', 'L18F', 5);
  series(ax, gbYellowDates, gbYellowB, '#e7e419', 'A222V', 5);
  series(ax, gbBrightBDates, gbBrightB, '#f1e51d', 'N501Y', 5);
  series(ax, gbBrightADates, gbBrightA, '#fde725', 'D1118H', 6);
  annotate(ax, gbLabelDates, gbLabelValues, gbLabelTexts);
  legend(ax, gbLegendNames, gbLegendColors, 106, 2905.5, 97);
})();

/* Uruguay */
(function () {
  const ax = makeAxes({title: 'Uruguay', dates: uyDates, totals: uyTotals, left: 1167, right: 2124, top: 2900, bottom: 3445.7, xRef: ['03-13', 1222.5, '06-26', 2067.7], yRef: [10, 3094.8, 2, 3414.3]});
  series(ax, uyDates, uy02, '#440f60', 'R273X');
  series(ax, uyDates, uy03, '#453781', 'T286X');
  series(ax, uyDates, uy01, '#482878', 'D287X');
  series(ax, uyDates, uy04, '#3e4989', 'blue-a');
  series(ax, uyDates, uy06, '#2c728e', 'blue-c');
  series(ax, uyDates, uy05, '#31688e', 'blue-b');
  series(ax, uyDates, uy07, '#1f8f8d', 'teal');
  series(ax, uyDates, uy08, '#29af7f', 'green');
  series(ax, uyDates, uyD614G, '#7ad151', 'D614G');
  series(ax, uyDates, uyV1104L, '#7ad151', 'V1104L');
  annotate(ax, uyLabelDates, uyLabelValues, uyLabelTexts);
  annotate(ax, uyLabelRepeatDates, uyLabelRepeatValues, uyLabelRepeatTexts, true);
  legend(ax, uyLegendNames, uyLegendColors, 2028, 2905.5, 89);
})();

/* Vietnam */
(function () {
  const ax = makeAxes({title: 'Vietnam', dates: vnDates, totals: vnTotals, left: 117.5, right: 1058, top: 3611.6, bottom: 4158, xRef: ['03-06', 213.2, '03-27', 961.4], yRef: [10, 3652.6, 2, 4099], labeledTicks: vnTickValues});
  series(ax, vnDates, vnD614G, '#440154', 'D614G');
  series(ax, vnDates, vn1274Q, '#fde725', '1274Q');
  annotate(ax, vnLabelDates, vnLabelValues, vnLabelTexts);
  legend(ax, vnLegendNames, vnLegendColors, 123.4, 3617, 89);
})();

/* Zimbabwe */
(function () {
  const ax = makeAxes({title: 'Zimbabwe', dates: zwDates, totals: zwTotals, left: 1174, right: 2124, top: 3611.6, bottom: 4158, xRef: ['03-01', 1239.6, '04-26', 2058.2], yRef: [1, 3687.8, 0.1, 4153.3]});
  series(ax, zwPairDates, zwDarkA, '#450457', 'A260X');
  series(ax, zwPairDates, zwDarkB, '#46085c', 'G261X');
  series(ax, zwPairDates, zwDarkC, '#471365', 'S255X');
  series(ax, zwPairDates, zwDarkD, '#481467', 'S256X');
  series(ax, zwPairDates, zwDarkE, '#481b6d', 'G257X');
  series(ax, zwPairDates, zwVioletA, '#482878', 'R273X');
  series(ax, zwPairDates, zwVioletB, '#472d7b', 'L277X', 5);
  series(ax, zwPairDates, zwVioletC, '#46327e', 'Y279X', 5);
  series(ax, zwPairDates, zwVioletD, '#472d7b', 'T299X', 5);
  series(ax, zwPairDates, zwBlueA, '#3e4a89', 'T315X');
  series(ax, zwPairDates, zwBlueB, '#3e4c8a', 'S316X');
  series(ax, zwPairDates, zwBlueC, '#3d4e8a', 'N317X');
  series(ax, zwPairDates, zwBlueD, '#3c508b', 'F318X');
  series(ax, zwPairDates, zwBlueE, '#3b518b', 'R319X');
  series(ax, zwPairDates, zwBlueF, '#3a548c', 'V320X');
  series(ax, zwPairDates, zwBlueG, '#39568c', 'Q321X');
  series(ax, zwPairDates, zwSteelA, '#365d8d', 'steel-a');
  series(ax, zwPairDates, zwSteelB, '#365d8d', 'steel-b');
  series(ax, zwPairDates, zwSteelC, '#33638d', 'steel-c');
  series(ax, zwPairDates, zwSteelD, '#33638d', 'steel-d');
  series(ax, zwPairDates, zwTealA, '#26818e', 'teal-a');
  series(ax, zwPairDates, zwTealB, '#26818e', 'teal-b');
  series(ax, zwPairDates, zwTealC, '#27808e', 'teal-c');
  series(ax, zwPairDates, zwTealD, '#27808e', 'teal-d');
  series(ax, zwPairDates, zwLimeA, '#b8de29', 'lime-a');
  series(ax, zwPairDates, zwLimeB, '#bddf26', 'lime-b');
  series(ax, zwPairDates, zwYellowA, '#dfe318', 'yellow-a');
  series(ax, zwPairDates, zwYellowB, '#e2e418', 'yellow-b');
  series(ax, zwPairDates, zwD614G, '#365d8d', 'D614G');
  series(ax, zwStemDates, zwStem, '#365d8d', 'stem');
  annotate(ax, zwLabelDates, zwLabelValues, zwLabelTexts);
  annotate(ax, zwLabelRepeatDates, zwLabelRepeatValues, zwLabelRepeatTexts, true);
  legend(ax, zwLegendNames, zwLegendColors, 1178.7, 3617, 92);
})();
</script>
</body>
</html>
